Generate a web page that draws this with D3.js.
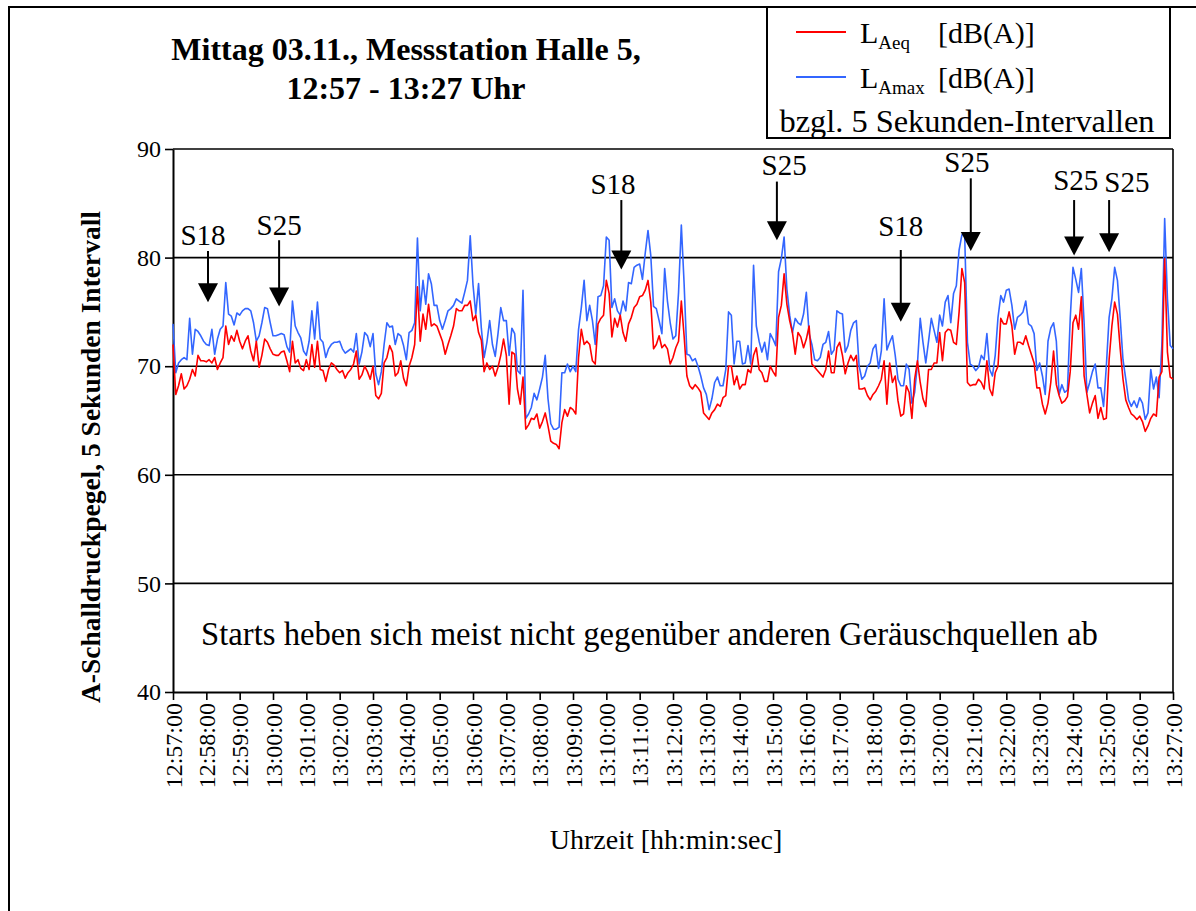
<!DOCTYPE html>
<html>
<head>
<meta charset="utf-8">
<script src="https://cdn.jsdelivr.net/npm/d3@7"></script>
<style>
  body { margin: 0; background: #fff; }
  svg { display: block; font-family: "Liberation Serif", "Times New Roman", serif; }
  svg text { font-family: "Liberation Serif", "Times New Roman", serif; }
</style>
</head>
<body>
<svg id="chart" width="1196" height="911"></svg>
<script>
// 5-second intervals from 12:57:00 to 13:27:00 (361 values each)
var stepSec = 5;

var laeq = [
  72.0, 67.4, 68.2, 69.3, 67.9, 68.2, 68.8, 69.7, 69.1, 71.0, 70.5, 70.5, 70.4, 70.6, 70.3, 70.8, 69.7,
  70.3, 70.8, 73.7, 72.0, 72.8, 72.3, 73.3, 72.3, 71.6, 72.3, 72.8, 71.4, 70.5, 72.3, 69.9, 71.0, 72.5,
  72.2, 71.6, 71.1, 71.0, 71.0, 71.3, 71.4, 70.5, 69.5, 72.3, 70.3, 70.6, 69.8, 69.6, 70.6, 69.7, 72.0, 69.9,
  72.3, 69.7, 69.6, 68.6, 69.7, 70.3, 70.1, 69.7, 69.4, 69.6, 68.9, 69.4, 69.7, 70.2, 71.4, 68.8, 69.2, 70.0,
  69.5, 68.8, 70.0, 67.3, 67.0, 67.5, 70.3, 70.8, 71.9, 71.3, 69.1, 69.4, 70.5, 68.9, 68.2, 70.0, 70.8, 72.0,
  77.3, 72.3, 74.8, 73.4, 75.7, 73.7, 73.9, 73.7, 73.0, 72.3, 71.1, 72.0, 72.8, 73.7, 75.3, 75.1, 75.1, 75.6,
  75.6, 76.0, 74.2, 74.7, 73.1, 72.4, 69.5, 70.3, 69.7, 70.0, 69.1, 69.9, 71.0, 72.5, 71.0, 66.5, 71.3, 71.1,
  67.9, 66.5, 69.0, 64.2, 64.6, 65.2, 65.1, 65.6, 64.3, 64.9, 65.7, 64.5, 63.1, 62.9, 62.8, 62.4, 64.8, 66.0,
  65.4, 66.2, 66.0, 65.6, 70.8, 73.4, 72.0, 72.3, 72.0, 70.5, 70.2, 73.9, 74.4, 74.7, 77.9, 76.7, 72.7, 74.4,
  73.6, 74.7, 73.1, 72.3, 73.9, 74.5, 75.4, 75.7, 76.4, 76.5, 77.0, 77.9, 75.9, 71.6, 72.0, 72.8, 71.7, 72.0,
  71.6, 70.2, 70.8, 71.7, 72.3, 76.0, 72.8, 69.1, 68.2, 67.9, 68.3, 68.0, 67.6, 65.7, 65.4, 65.1, 65.7, 66.0,
  66.5, 66.3, 67.1, 67.3, 70.0, 70.0, 68.3, 69.1, 67.9, 68.3, 68.3, 69.7, 69.4, 71.0, 71.7, 69.7, 69.4, 68.6,
  68.6, 70.0, 69.5, 69.1, 74.5, 75.6, 78.5, 75.7, 74.2, 73.1, 71.1, 73.1, 72.7, 71.7, 72.5, 73.7, 70.2, 69.9,
  69.6, 69.3, 69.0, 69.7, 71.4, 69.4, 69.4, 71.7, 72.2, 71.0, 69.3, 70.3, 71.0, 70.5, 71.0, 67.9, 67.9, 68.0,
  67.3, 66.9, 67.4, 67.7, 68.2, 68.8, 70.5, 66.5, 70.3, 68.5, 69.1, 66.8, 65.4, 65.6, 68.2, 67.6, 65.2, 68.8,
  70.5, 68.5, 67.0, 66.3, 69.7, 69.7, 70.3, 70.3, 73.1, 70.5, 73.1, 73.4, 73.3, 72.2, 72.0, 75.0, 79.0, 77.7,
  68.5, 68.2, 68.3, 68.3, 68.8, 68.5, 67.9, 70.5, 67.9, 67.3, 69.4, 70.0, 74.4, 73.9, 73.9, 75.0, 73.7, 71.1,
  72.2, 72.2, 72.0, 72.8, 71.9, 71.1, 70.3, 68.0, 68.0, 66.5, 65.6, 66.6, 68.5, 71.4, 68.3, 67.3, 66.6, 66.8,
  67.2, 69.5, 74.0, 74.7, 73.4, 76.4, 69.1, 67.4, 65.7, 66.6, 67.3, 65.2, 66.2, 65.1, 65.2, 70.6, 73.7, 75.9,
  74.8, 71.6, 68.8, 66.9, 66.2, 65.6, 65.4, 65.1, 65.4, 64.9, 64.0, 64.5, 65.2, 65.6, 65.4, 69.0, 69.5, 79.9,
  71.3, 69.0, 68.8
];

var lamax = [
  73.9, 69.4, 70.3, 70.6, 70.8, 70.6, 74.4, 71.1, 73.4, 73.2, 72.8, 72.3, 72.0, 71.9, 73.4, 71.1, 72.5,
  73.4, 73.7, 77.7, 74.8, 74.6, 73.8, 74.9, 74.7, 75.1, 75.3, 75.3, 75.1, 74.0, 72.3, 72.8, 74.0, 75.4,
  75.3, 74.0, 72.8, 72.8, 72.9, 73.0, 72.9, 71.8, 71.3, 76.0, 73.7, 73.1, 72.6, 71.4, 71.0, 72.3, 75.1, 72.5,
  75.9, 72.5, 72.2, 70.8, 71.6, 72.0, 72.2, 72.2, 72.3, 71.6, 71.2, 71.4, 71.6, 71.3, 73.0, 70.2, 71.3, 73.1,
  72.8, 71.8, 73.0, 69.3, 68.3, 69.5, 72.0, 74.0, 73.6, 73.7, 72.0, 73.0, 72.8, 71.9, 70.6, 73.1, 73.3, 74.0,
  81.8, 75.1, 77.9, 75.7, 78.5, 77.6, 75.6, 75.6, 74.2, 73.4, 74.2, 75.1, 75.3, 75.6, 76.2, 76.0, 75.8, 76.8,
  77.9, 82.0, 77.5, 74.8, 77.6, 73.5, 70.8, 72.2, 74.2, 72.0, 70.9, 73.0, 75.4, 74.2, 74.2, 71.0, 73.5, 73.0,
  69.6, 69.3, 77.0, 65.2, 65.6, 66.2, 67.5, 66.9, 67.9, 69.0, 71.0, 67.0, 64.7, 64.2, 64.2, 64.4, 69.4, 69.4,
  70.2, 69.5, 70.0, 69.5, 73.4, 75.4, 77.9, 74.2, 75.6, 74.2, 72.0, 76.4, 76.5, 77.4, 81.9, 81.6, 75.4, 76.2,
  75.1, 74.7, 76.0, 75.1, 77.7, 77.6, 79.1, 79.3, 79.4, 78.0, 80.4, 82.5, 80.2, 75.5, 75.3, 74.2, 73.0, 79.0,
  76.0, 74.0, 72.5, 72.8, 76.8, 83.0, 77.6, 71.1, 71.0, 70.5, 70.7, 70.0, 69.1, 68.0, 67.4, 66.0, 67.0, 68.5,
  69.0, 68.2, 68.2, 69.7, 75.0, 74.7, 70.2, 72.3, 72.3, 70.2, 70.3, 71.9, 70.2, 79.3, 73.7, 72.3, 71.3, 72.2,
  70.6, 73.0, 72.5, 71.9, 78.7, 79.9, 81.9, 77.1, 74.7, 73.1, 74.4, 74.0, 73.8, 74.8, 76.8, 73.0, 72.0, 70.6,
  70.5, 70.8, 72.0, 72.2, 73.2, 71.1, 71.5, 75.1, 74.9, 74.8, 71.3, 71.9, 73.3, 74.0, 74.2, 70.0, 68.8, 69.1,
  70.0, 70.3, 71.6, 72.0, 69.8, 71.4, 76.2, 71.5, 72.2, 72.8, 71.0, 68.8, 68.2, 68.2, 70.2, 69.7, 66.6, 67.6,
  70.2, 74.4, 72.2, 70.3, 72.3, 74.4, 73.3, 72.2, 74.7, 73.7, 75.9, 76.5, 74.0, 76.7, 77.4, 80.7, 82.1, 82.1,
  72.2, 70.2, 70.0, 69.6, 69.9, 71.0, 70.6, 73.0, 69.7, 69.1, 71.0, 74.5, 76.5, 75.9, 77.0, 77.1, 75.6, 73.4,
  74.5, 74.7, 75.0, 76.0, 73.9, 73.7, 73.0, 69.6, 70.3, 69.1, 67.4, 72.3, 73.5, 74.0, 72.3, 67.4, 68.3, 67.6,
  67.8, 74.4, 79.1, 78.0, 76.8, 79.0, 74.0, 67.6, 68.5, 69.5, 70.2, 68.0, 68.0, 66.3, 70.0, 74.5, 76.2, 79.1,
  77.9, 74.4, 70.6, 68.8, 66.9, 66.3, 66.8, 66.2, 67.1, 66.6, 65.1, 65.7, 69.7, 67.9, 69.0, 67.1, 72.0, 83.6,
  76.2, 71.9, 71.6
];

var yTicks = [40, 50, 60, 70, 80, 90];
var gridLevels = [50, 60, 70, 80, 90];
var timeTicks = [
  "12:57:00", "12:58:00", "12:59:00", "13:00:00", "13:01:00", "13:02:00", "13:03:00", "13:04:00",
  "13:05:00", "13:06:00", "13:07:00", "13:08:00", "13:09:00", "13:10:00", "13:11:00", "13:12:00",
  "13:13:00", "13:14:00", "13:15:00", "13:16:00", "13:17:00", "13:18:00", "13:19:00", "13:20:00",
  "13:21:00", "13:22:00", "13:23:00", "13:24:00", "13:25:00", "13:26:00", "13:27:00"
];

// starts marked in the chart: arrow time, label time, label level, arrow top and tip (dB)
var eventLabels = ["S18", "S25", "S18", "S25", "S18", "S25", "S25", "S25"];
var eventTimes  = ["12:58:03", "13:00:11", "13:10:27", "13:15:07", "13:18:50", "13:20:56", "13:24:02", "13:25:05"];
var eventTextAt = ["12:57:54", "13:00:11", "13:10:12", "13:15:20", "13:18:50", "13:20:49", "13:24:05", "13:25:37"];
var eventTextDb = [81.2, 82.1, 85.9, 87.6, 82.0, 87.9, 86.2, 86.0];
var eventTopDb  = [80.6, 81.6, 85.3, 87.0, 80.7, 87.3, 85.3, 85.3];
var eventTipDb  = [75.9, 75.5, 78.9, 81.6, 74.1, 80.6, 80.2, 80.5];

var seriesColors = ["#ff0000", "#3366ff"];

var svg = d3.select("#chart");
var t0 = 12 * 3600 + 57 * 60;
function secOf(s) {
  var p = s.split(":").map(Number);
  return p[0] * 3600 + p[1] * 60 + p[2] - t0;
}

var x = d3.scaleLinear().domain([0, 1800]).range([173, 1173]);
var y = d3.scaleLinear().domain([40, 90]).range([692, 149]);

// outer frame
svg.append("path")
  .attr("d", "M9,911 V7 H1196")
  .attr("fill", "none").attr("stroke", "#000").attr("stroke-width", 2);

// title
var title = svg.append("text")
  .attr("text-anchor", "middle")
  .style("font-weight", "bold").style("font-size", "32px");
title.append("tspan").attr("x", 406).attr("y", 60).text("Mittag 03.11., Messstation Halle 5,");
title.append("tspan").attr("x", 406).attr("y", 99).text("12:57 - 13:27 Uhr");

// grid lines
svg.append("g").selectAll("line")
  .data(gridLevels)
  .enter().append("line")
  .attr("x1", x(0)).attr("x2", x(1800))
  .attr("y1", function(d) { return y(d); })
  .attr("y2", function(d) { return y(d); })
  .attr("stroke", "#000").attr("stroke-width", 1.6);

// right border of plot
svg.append("line")
  .attr("x1", x(1800)).attr("x2", x(1800))
  .attr("y1", y(90)).attr("y2", y(40))
  .attr("stroke", "#000").attr("stroke-width", 1.6);

// y axis
var yAxis = svg.append("g")
  .attr("transform", "translate(" + x(0) + ",0)")
  .call(d3.axisLeft(y).tickValues(yTicks).tickSize(8).tickSizeOuter(0).tickPadding(4));
yAxis.attr("font-family", null).attr("font-size", null);
yAxis.select(".domain").attr("stroke-width", 2);
yAxis.selectAll(".tick line").attr("stroke-width", 1.6);
yAxis.selectAll("text").style("font-size", "24px").attr("fill", "#000");

// x axis
var xAxis = svg.append("g")
  .attr("transform", "translate(0," + y(40) + ")")
  .call(d3.axisBottom(x).tickValues(d3.range(0, 1801, 60)).tickSize(8).tickSizeOuter(0)
    .tickFormat(function(d, i) { return timeTicks[i]; }));
xAxis.attr("font-family", null).attr("font-size", null);
xAxis.select(".domain").attr("stroke-width", 2);
xAxis.selectAll(".tick line").attr("stroke-width", 1.6);
xAxis.selectAll("text")
  .attr("transform", "rotate(-90)")
  .attr("x", -11).attr("y", 0).attr("dy", "0.34em")
  .style("text-anchor", "end")
  .style("font-size", "24px").attr("fill", "#000");

// axis titles
svg.append("text")
  .attr("transform", "translate(100,457) rotate(-90)")
  .attr("text-anchor", "middle")
  .style("font-weight", "bold").style("font-size", "27.5px")
  .text("A-Schalldruckpegel, 5 Sekunden Intervall");

svg.append("text")
  .attr("x", 666).attr("y", 849)
  .attr("text-anchor", "middle")
  .style("font-size", "28px")
  .text("Uhrzeit [hh:min:sec]");

// series
var line = d3.line()
  .x(function(d, i) { return x(i * stepSec); })
  .y(function(d) { return y(d); });

[[lamax, seriesColors[1]], [laeq, seriesColors[0]]].forEach(function(s) {
  svg.append("path")
    .datum(s[0])
    .attr("fill", "none")
    .attr("stroke", s[1])
    .attr("stroke-width", 1.6)
    .attr("stroke-linejoin", "round")
    .attr("d", line);
});

// event arrows
var ev = svg.append("g").selectAll("g")
  .data(eventLabels)
  .enter().append("g");

ev.append("text")
  .attr("x", function(d, i) { return x(secOf(eventTextAt[i])); })
  .attr("y", function(d, i) { return y(eventTextDb[i]); })
  .attr("text-anchor", "middle")
  .style("font-size", "29px")
  .text(function(d) { return d; });

ev.append("line")
  .attr("x1", function(d, i) { return x(secOf(eventTimes[i])); })
  .attr("x2", function(d, i) { return x(secOf(eventTimes[i])); })
  .attr("y1", function(d, i) { return y(eventTopDb[i]); })
  .attr("y2", function(d, i) { return y(eventTipDb[i]) - 16; })
  .attr("stroke", "#000").attr("stroke-width", 2);

ev.append("path")
  .attr("d", function(d, i) {
    var ax = x(secOf(eventTimes[i])), ty = y(eventTipDb[i]);
    return "M" + (ax - 10) + "," + (ty - 19) + " L" + (ax + 10) + "," + (ty - 19) + " L" + ax + "," + ty + " Z";
  })
  .attr("fill", "#000");

// note inside the plot
svg.append("text")
  .attr("x", 201).attr("y", 645)
  .style("font-size", "32.7px")
  .text("Starts heben sich meist nicht gegenüber anderen Geräuschquellen ab");

// legend
var lg = svg.append("g");
lg.append("rect")
  .attr("x", 767).attr("y", 7).attr("width", 403).attr("height", 131)
  .attr("fill", "#fff").attr("stroke", "#000").attr("stroke-width", 2);

var legendSubs = ["Aeq", "Amax"];
var legendRowY = [32, 77];
legendSubs.forEach(function(sub, k) {
  var ry = legendRowY[k];
  lg.append("line")
    .attr("x1", 796).attr("x2", 846).attr("y1", ry).attr("y2", ry)
    .attr("stroke", seriesColors[k]).attr("stroke-width", 2);
  var t = lg.append("text").attr("x", 860).attr("y", ry + 11).style("font-size", "30px");
  t.append("tspan").text("L");
  t.append("tspan").attr("dy", 6).style("font-size", "19px").text(sub);
  lg.append("text").attr("x", 938).attr("y", ry + 11).style("font-size", "30px").text("[dB(A)]");
});
lg.append("text")
  .attr("x", 967).attr("y", 132)
  .attr("text-anchor", "middle")
  .style("font-size", "32.4px")
  .text("bzgl. 5 Sekunden-Intervallen");
</script>
</body>
</html>
